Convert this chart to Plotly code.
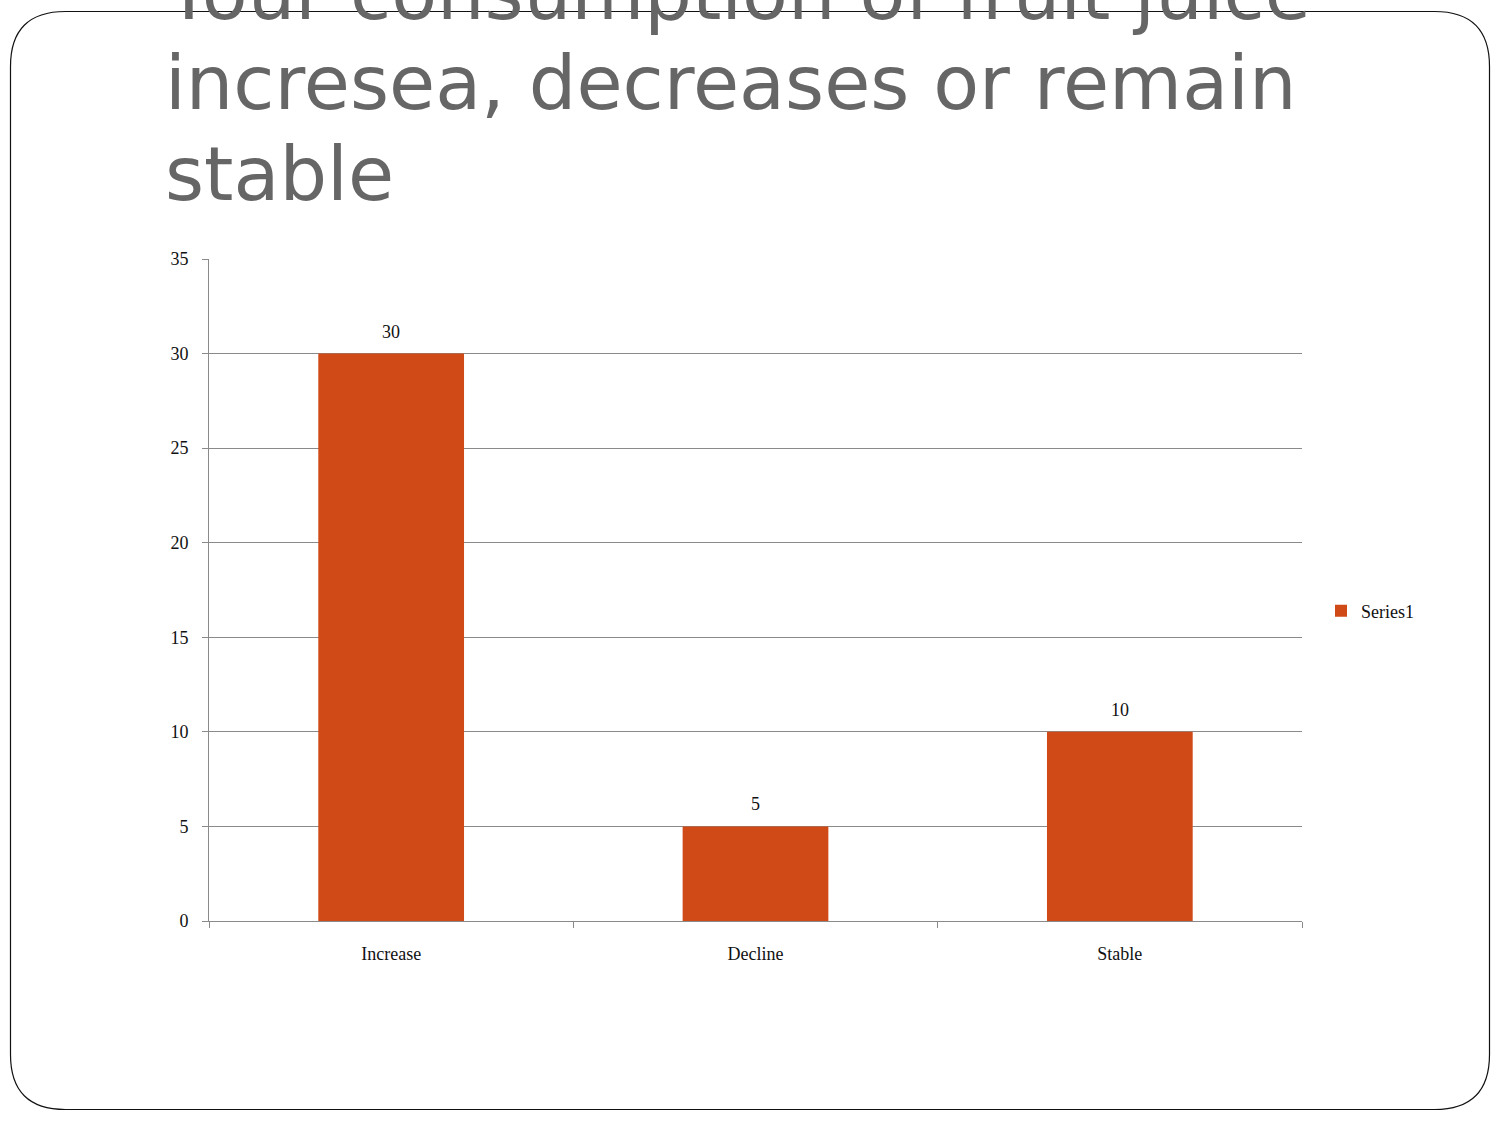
import plotly.graph_objects as go

categories = ["Increase", "Decline", "Stable"]
values = [30, 5, 10]
series_name = "Series1"
title_lines = ["Your consumption of fruit juice", "incresea, decreases or remain", "stable"]
y_ticks = [0, 5, 10, 15, 20, 25, 30, 35]

W, H = 1500, 1125
L, R, T, B = 209, 1302, 259, 921  # plot area in pixels
pw, ph = R - L, B - T

def px(x):
    return (x - L) / pw

def py(y):
    return (B - y) / ph

SERIF = "Liberation Serif"

fig = go.Figure()
fig.add_trace(go.Bar(
    x=categories, y=values, name=series_name,
    marker=dict(color="#D04A18", line=dict(width=0)),
    width=0.4,
))

# rounded rectangle border (slide frame)
x0, x1, y0, y1, r = 10.5, 1489.5, 11.5, 1109.5, 55
path = (
    f"M {px(x0 + r)},{py(y0)} L {px(x1 - r)},{py(y0)} "
    f"Q {px(x1)},{py(y0)} {px(x1)},{py(y0 + r)} "
    f"L {px(x1)},{py(y1 - r)} "
    f"Q {px(x1)},{py(y1)} {px(x1 - r)},{py(y1)} "
    f"L {px(x0 + r)},{py(y1)} "
    f"Q {px(x0)},{py(y1)} {px(x0)},{py(y1 - r)} "
    f"L {px(x0)},{py(y0 + r)} "
    f"Q {px(x0)},{py(y0)} {px(x0 + r)},{py(y0)} Z"
)
shapes = [dict(type="path", xref="paper", yref="paper", path=path,
               line=dict(color="#111111", width=1.2), layer="below")]

annotations = []
baselines = [22, 112, 203]
for line, base in zip(title_lines, baselines):
    annotations.append(dict(
        text=line, xref="paper", yref="paper", x=px(163), y=py(base + 17),
        xanchor="left", yanchor="bottom", showarrow=False,
        font=dict(family="DejaVu Sans", size=75, color="#666666"),
    ))

# value labels above bars
for c, v in zip(categories, values):
    annotations.append(dict(
        text=str(v), x=c, y=v, xref="x", yref="y", yanchor="bottom",
        yshift=10, showarrow=False,
        font=dict(family=SERIF, size=18, color="#111111"),
    ))

fig.update_layout(
    width=W, height=H,
    margin=dict(l=L, r=W - R, t=T, b=H - B),
    paper_bgcolor="white", plot_bgcolor="white",
    showlegend=True,
    legend=dict(x=px(1321), y=py(611), xanchor="left", yanchor="middle",
                font=dict(family=SERIF, size=18, color="#111111"),
                itemwidth=30, bgcolor="rgba(0,0,0,0)"),
    shapes=shapes, annotations=annotations,
)
fig.update_yaxes(range=[0, 35], tickvals=y_ticks, showgrid=True, gridcolor="#8a8a8a",
                 gridwidth=1, showline=True, linecolor="#8a8a8a", linewidth=1,
                 ticks="outside", ticklen=6, tickcolor="#8a8a8a",
                 ticklabelstandoff=10,
                 tickfont=dict(family=SERIF, size=18, color="#111111"),
                 zeroline=False, fixedrange=True)
fig.update_xaxes(showline=True, linecolor="#8a8a8a", linewidth=1, ticks="outside",
                 tickson="boundaries", ticklen=6, tickcolor="#8a8a8a",
                 ticklabelstandoff=16,
                 tickfont=dict(family=SERIF, size=18, color="#111111"),
                 showgrid=False)

fig.write_html("out.html")
